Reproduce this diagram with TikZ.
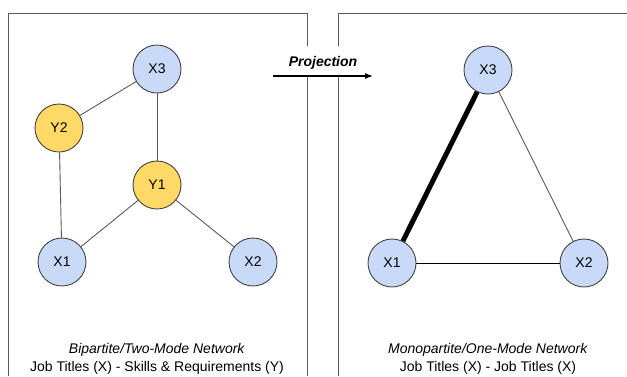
\documentclass[tikz,border=0pt]{standalone}
\usepackage{fontspec}
\setmainfont{Liberation Sans}
\usetikzlibrary{arrows.meta, positioning}
\definecolor{jobblue}{RGB}{201,218,248}
\definecolor{skillyellow}{RGB}{255,217,102}
\definecolor{rimgray}{RGB}{67,67,67}
\definecolor{edgegray}{RGB}{89,89,89}

\begin{document}
\begin{tikzpicture}[x=1pt, y=-1pt, font=\fontsize{14}{18}\selectfont,
    job/.style={circle, draw=rimgray, line width=0.9pt, fill=jobblue, minimum size=48pt, inner sep=0pt},
    skill/.style={job, fill=skillyellow},
    link/.style={draw=edgegray, line width=0.9pt},
    frame/.style={draw=edgegray, line width=0.9pt}]
            \useasboundingbox (0,0) rectangle (627,376);
            % panels
            \draw[frame] (8,376) -- (8,13) -- (307,13) -- (307,376);
            \draw[frame] (338,376) -- (338,13) -- (627,13);
            % bipartite network
            \node[job] (lx3) at (157,69) {X3};
            \node[skill] (ly2) at (59,128) {Y2};
            \node[skill] (ly1) at (157,185) {Y1};
            \node[job] (lx1) at (62,262) {X1};
            \node[job] (lx2) at (253,262) {X2};
            \draw[link] (lx3) -- (ly2);
            \draw[link] (lx3) -- (ly1);
            \draw[link] (ly2) -- (lx1);
            \draw[link] (ly1) -- (lx1);
            \draw[link] (ly1) -- (lx2);
            \node[align=center] (lcap) at (157,359) {\textit{Bipartite/Two-Mode Network}\\Job Titles (X) - Skills \& Requirements (Y)};
            % projection arrow
            \node[fill=white, minimum height=31pt, text depth=0pt, font=\fontsize{14}{18}\selectfont\bfseries\itshape] (proj) at (323,61) {Projection};
            \coordinate (pa) at (273,76);
            \coordinate (pb) at (373,76);
            \draw[-{Latex[length=8pt,width=6pt]}, line width=1.2pt] (pa) -- (pb);
            % one-mode network
            \node[job] (rx3) at (488,70) {X3};
            \node[job] (rx1) at (392,263) {X1};
            \node[job] (rx2) at (584,263) {X2};
            \draw[line width=5pt] (rx3) -- (rx1);
            \draw[link] (rx3) -- (rx2);
            \draw[link, draw=black] (rx1) -- (rx2);
            \node[align=center] (rcap) at (488,359) {\textit{Monopartite/One-Mode Network}\\Job Titles (X) - Job Titles (X)};
        \end{tikzpicture}
\end{document}
